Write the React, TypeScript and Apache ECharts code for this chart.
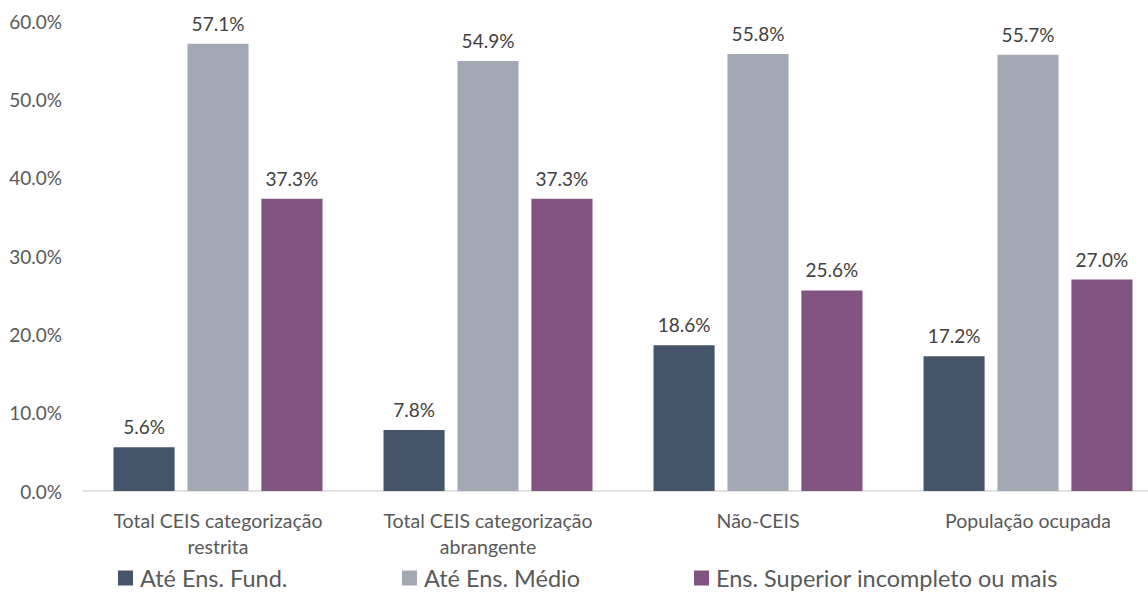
import React, { useEffect, useRef } from "react";
import * as echarts from "echarts";

const categories = [
  "Total CEIS categorização restrita",
  "Total CEIS categorização abrangente",
  "Não-CEIS",
  "População ocupada",
];
const seriesNames = ["Até Ens. Fund.", "Até Ens. Médio", "Ens. Superior incompleto ou mais"];
const fundValues = [5.6, 7.8, 18.6, 17.2];
const medioValues = [57.1, 54.9, 55.8, 55.7];
const superiorValues = [37.3, 37.3, 25.6, 27.0];
const colors = ["#44546A", "#A3A9B4", "#805380"];
const legendLefts = [118, 402, 694];

const FONT = "Lato, 'Noto Sans', sans-serif";

export default function App() {
  const ref = useRef<HTMLDivElement>(null);
  useEffect(() => {
    document.body.style.margin = "0";
    document.body.style.overflow = "hidden";
    const chart = echarts.init(ref.current!, null, { renderer: "svg" });
    const values = [fundValues, medioValues, superiorValues];
    chart.setOption({
      animation: false,
      textStyle: { fontFamily: FONT },
      grid: { left: 83, right: 0, top: 21, bottom: 102, containLabel: false },
      legend: seriesNames.map((n, i) => ({
        data: [n],
        left: legendLefts[i],
        top: 566,
        itemWidth: 15,
        itemHeight: 15,
        icon: "rect",
        itemGap: 8,
        padding: 0,
        textStyle: { fontFamily: FONT, fontSize: 23.5, color: "#595959", padding: [0, 0, 0, 2] },
      })),
      xAxis: {
        type: "category",
        data: categories,
        axisLine: { lineStyle: { color: "#D9D9D9", width: 1.5 } },
        axisTick: { show: false },
        axisLabel: {
          interval: 0,
          color: "#595959",
          fontSize: 19.5,
          fontFamily: FONT,
          margin: 16,
          lineHeight: 26,
          formatter: (v: string) => {
            const w = v.split(" ");
            if (w.length > 3) return w.slice(0, 3).join(" ") + "\n" + w.slice(3).join(" ");
            return v;
          },
        },
      },
      yAxis: {
        type: "value",
        min: 0,
        max: 60,
        interval: 10,
        splitLine: { show: false },
        axisLine: { show: false },
        axisTick: { show: false },
        axisLabel: {
          color: "#595959",
          fontSize: 19,
          fontFamily: FONT,
          margin: 21,
          formatter: (v: number) => v.toFixed(1) + "%",
        },
      },
      series: seriesNames.map((n, i) => ({
        name: n,
        type: "bar",
        data: values[i],
        barGap: "21%",
        barCategoryGap: "22.6%",
        itemStyle: { color: colors[i] },
        label: {
          show: true,
          position: "top",
          distance: 11,
          color: "#404040",
          fontSize: 19,
          fontFamily: FONT,
          formatter: (p: any) => p.value.toFixed(1) + "%",
        },
      })),
    });
    return () => chart.dispose();
  }, []);
  return <div ref={ref} style={{ width: 1163, height: 593 }} />;
}
